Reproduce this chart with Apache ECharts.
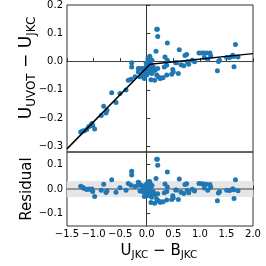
<!DOCTYPE html>
<html><head><meta charset="utf-8">
<script src="https://cdn.jsdelivr.net/npm/echarts@6/dist/echarts.min.js"></script>
<style>html,body{margin:0;padding:0;background:#fff}#c{width:266px;height:266px}</style>
</head><body><div id="c"></div>
<script>
// Data: [U_JKC - B_JKC, U_UVOT - U_JKC]
const mainPoints = [
[-1.242,-0.249],[-1.205,-0.246],[-1.174,-0.245],[-1.13,-0.240],[-1.092,-0.231],[-1.054,-0.226],
[-1.03,-0.219],[-1.016,-0.226],[-0.979,-0.239],[-0.855,-0.191],[-0.81,-0.158],[-0.766,-0.182],
[-0.747,-0.172],[-0.659,-0.110],[-0.578,-0.145],[-0.503,-0.113],[-0.39,-0.101],[-0.296,-0.063],
[-0.22,-0.054],[-0.283,-0.004],[-0.283,-0.019],[-0.346,-0.066],[-0.145,-0.025],[-0.158,-0.025],
[-0.094,-0.025],[-0.064,-0.031],[-0.032,-0.023],[0.0,-0.016],[0.019,-0.007],[0.03,0.008],
[0.062,-0.001],[0.024,0.011],[0.056,0.019],[0.06,0.016],[-0.158,-0.037],[-0.126,-0.054],
[-0.064,-0.046],[-0.019,-0.037],[0.0,-0.048],[0.03,-0.031],[0.062,-0.025],[0.094,-0.042],
[0.124,-0.019],[0.156,-0.031],[0.188,-0.048],[0.218,-0.054],[0.25,-0.06],[0.207,-0.025],
[0.331,-0.019],[0.376,-0.013],[0.08,-0.064],[-0.045,-0.06],[0.376,-0.048],[0.15,-0.066],
[0.27,-0.058],[0.307,-0.057],[0.49,-0.028],[0.47,-0.045],[0.5,-0.037],[0.595,-0.042],
[0.175,0.036],[0.188,0.114],[0.2,0.114],[0.207,0.089],[0.045,-0.02],[0.01,-0.03],
[0.075,-0.012],[0.11,-0.035],[0.04,-0.04],[-0.01,-0.005],[0.1,0.005],
[0.388,0.066],[0.613,0.042],[0.72,0.021],[0.75,0.025],[0.344,0.016],[0.388,0.005],
[0.545,-0.004],[0.56,-0.004],[0.645,-0.011],[0.696,-0.015],[0.764,-0.001],[0.79,-0.01],
[0.858,0.005],[0.9,-0.001],[0.984,0.03],[1.035,0.03],[1.072,0.03],[1.12,0.03],[1.19,0.03],
[1.084,0.014],[1.148,0.007],[1.204,0.020],[1.35,0.0],[1.37,0.005],[1.33,-0.033],
[1.505,0.014],[1.562,0.014],[1.618,0.022],[1.637,0.018],[1.718,0.016],[1.67,0.060],[1.643,-0.018]
];
// Residuals (same order as mainPoints)
const residuals = [
0.011,0.007,0.002,-0.002,0.0,-0.002,
0.0,-0.010,-0.030,-0.005,0.019,-0.014,
-0.007,0.038,-0.013,0.005,-0.005,0.015,
0.010,0.072,0.057,0.022,0.024,0.027,
0.014,0.003,0.005,0.005,0.011,0.024,
0.009,0.028,0.030,0.026,0.015,-0.008,
-0.012,-0.012,-0.027,-0.015,-0.016,-0.033,
-0.011,-0.023,-0.041,-0.048,-0.054,-0.019,
-0.015,-0.010,-0.055,-0.030,-0.045,-0.058,
-0.053,-0.052,-0.027,-0.043,-0.036,-0.043,
0.043,0.121,0.121,0.096,-0.007,-0.011,
-0.003,-0.026,-0.026,0.018,0.014,
0.069,0.041,0.018,0.021,0.020,0.008,
-0.004,-0.004,-0.013,-0.018,-0.005,-0.015,
-0.001,-0.008,0.022,0.021,0.020,0.019,0.018,
0.004,-0.005,0.007,-0.016,-0.011,-0.048,
-0.005,-0.006,0.001,-0.003,-0.007,0.038,-0.039
];
// Broken-line fit vertices
const fitLine = [[-1.5,-0.309],[0.062,-0.0095],[2.0,0.028]];
const zeroLine = [[-1.5,0],[2.0,0]];
const yMainTicks = [-0.3,-0.2,-0.1,0.0,0.1,0.2];
const yResTicks = [-0.1,0.0,0.1];
const residBand = 0.032;

const FONT = 'DejaVu Sans';
const fmt = v => (v < -1e-9 ? '\u2212' : '') + Math.abs(v).toFixed(1);
const resPoints = mainPoints.map((p, i) => [p[0], residuals[i]]);
const axisLine = {show: true, lineStyle: {color: '#333', width: 1}};
const tick = vals => ({show: true, inside: true, length: 3.5, customValues: vals, lineStyle: {color: '#333'}});
const ylab = vals => ({show: true, margin: 4, customValues: vals, showMinLabel: true, showMaxLabel: true,
  hideOverlap: false, fontFamily: FONT, fontSize: 10, color: '#000', formatter: fmt});

const chart = echarts.init(document.getElementById('c'), null, {renderer: 'canvas'});
chart.setOption({
  animation: false,
  grid: [
    {left: 67, top: 5, width: 186, height: 147, show: true, borderColor: '#333', borderWidth: 1},
    {left: 67, top: 152, width: 186, height: 74, show: true, borderColor: '#333', borderWidth: 1}
  ],
  xAxis: [
    {type: 'value', gridIndex: 0, min: -1.5, max: 2.0, interval: 0.5, axisLine,
     axisTick: {show: true, inside: true, length: 3.5, lineStyle: {color: '#333'}},
     axisLabel: {show: false}, splitLine: {show: false}},
    {type: 'value', gridIndex: 1, min: -1.5, max: 2.0, interval: 0.5, axisLine,
     axisTick: {show: true, inside: true, length: 3.5, lineStyle: {color: '#333'}},
     axisLabel: {show: true, margin: 3, fontFamily: FONT, fontSize: 10, color: '#000', formatter: fmt},
     splitLine: {show: false}}
  ],
  yAxis: [
    {type: 'value', gridIndex: 0, min: -0.32, max: 0.2, axisLine, axisTick: tick(yMainTicks),
     axisLabel: ylab(yMainTicks), splitLine: {show: false}},
    {type: 'value', gridIndex: 1, min: -0.15, max: 0.15, axisLine, axisTick: tick(yResTicks),
     axisLabel: ylab(yResTicks), splitLine: {show: false}}
  ],
  series: [
    {type: 'line', xAxisIndex: 0, yAxisIndex: 0, data: zeroLine, symbol: 'none', silent: true,
     lineStyle: {color: '#444', width: 1}, z: 1},
    {type: 'scatter', xAxisIndex: 0, yAxisIndex: 0, data: mainPoints, symbolSize: 5,
     itemStyle: {color: '#1f77b4', opacity: 1}, z: 2},
    {type: 'line', xAxisIndex: 0, yAxisIndex: 0, data: fitLine, symbol: 'none', silent: true,
     lineStyle: {color: '#000', width: 1.5}, z: 3},
    {type: 'line', xAxisIndex: 1, yAxisIndex: 1, data: zeroLine, symbol: 'none', silent: true,
     lineStyle: {color: '#444', width: 1}, z: 1,
     markArea: {silent: true, itemStyle: {color: '#e6e6e6'},
       data: [[{yAxis: -residBand}, {yAxis: residBand}]]}},
    {type: 'scatter', xAxisIndex: 1, yAxisIndex: 1, data: resPoints, symbolSize: 5,
     itemStyle: {color: '#1f77b4', opacity: 1}, z: 2}
  ],
  graphic: [
    {id: 'ytitle', type: 'text', x: 27, y: 68, rotation: Math.PI / 2,
     style: {text: '{b|U}{s|UVOT}{b| \u2212 U}{s|JKC}', align: 'center', verticalAlign: 'middle', fill: '#000',
       rich: {b: {fontFamily: FONT, fontSize: 17, lineHeight: 22, fill: '#000'},
              s: {fontFamily: FONT, fontSize: 12, verticalAlign: 'bottom', fill: '#000'}}}},
    {id: 'rtitle', type: 'text', x: 27, y: 189, rotation: Math.PI / 2,
     style: {text: 'Residual', align: 'center', verticalAlign: 'middle', fill: '#000',
       fontFamily: FONT, fontSize: 15}},
    {id: 'xtitle', type: 'text', x: 159, y: 251,
     style: {text: '{b|U}{s|JKC}{b| \u2212 B}{s|JKC}', align: 'center', verticalAlign: 'middle', fill: '#000',
       rich: {b: {fontFamily: FONT, fontSize: 15, lineHeight: 20, fill: '#000'},
              s: {fontFamily: FONT, fontSize: 10.5, verticalAlign: 'bottom', fill: '#000'}}}}
  ]
});

// Safety: make sure every y tick label is visible (add it at the axis position if the library dropped it)
const extra = [];
[[0, yMainTicks], [1, yResTicks]].forEach(([ai, vals]) => {
  vals.forEach(v => {
    const py = chart.convertToPixel({yAxisIndex: ai}, v);
    const txt = fmt(v);
    let ok = false;
    chart.getZr().storage.traverse(el => {
      if (el.style && el.style.text === txt && !el.ignore && !el.invisible && el.x < 67 && Math.abs(el.y - py) < 2) ok = true;
    });
    if (!ok) extra.push({id: 'fb' + ai + '_' + txt, type: 'text', x: 63, y: py,
      style: {text: txt, align: 'right', verticalAlign: 'middle', fill: '#000', fontFamily: FONT, fontSize: 10}});
  });
});
if (extra.length) chart.setOption({graphic: extra});
</script></body></html>
